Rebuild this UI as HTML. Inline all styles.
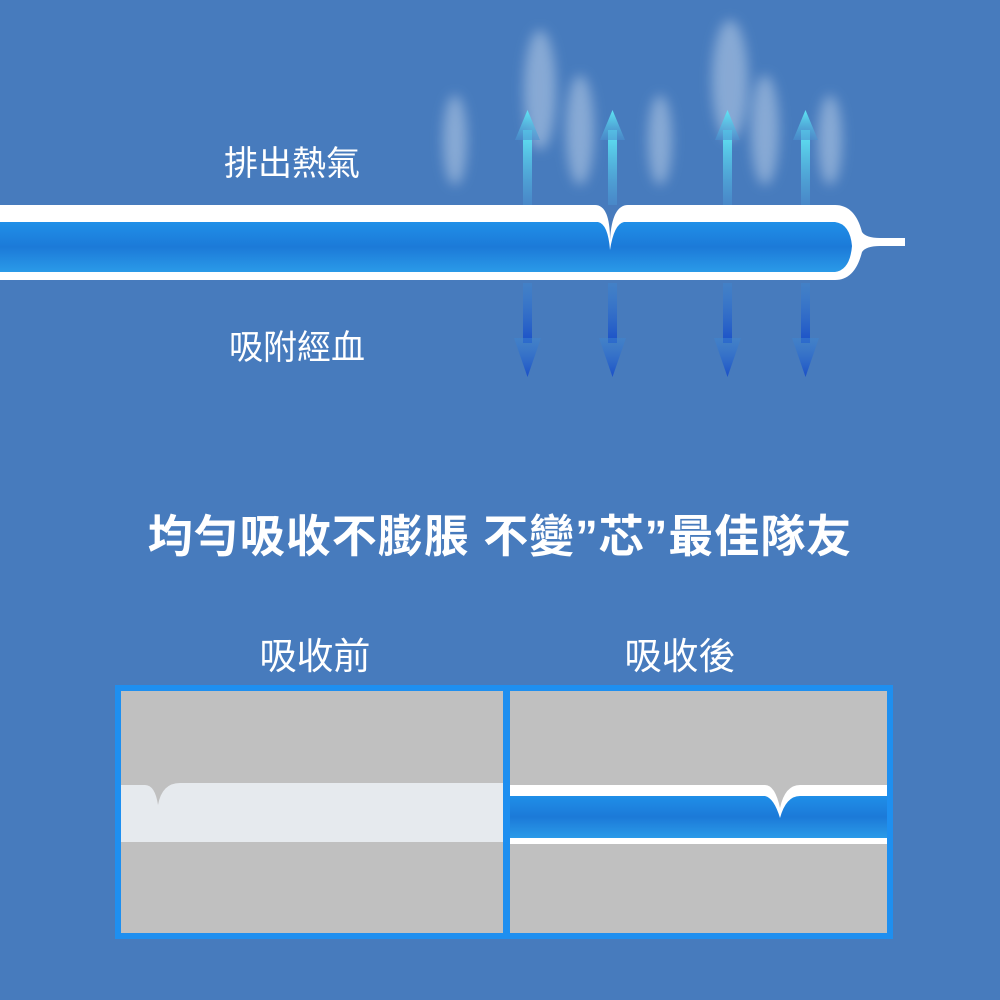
<!DOCTYPE html>
<html><head><meta charset="utf-8"><style>
body{margin:0;width:1000px;height:1000px;background:#477bbd;overflow:hidden;position:relative;font-family:"Liberation Sans","Noto Sans CJK TC",sans-serif;color:#fff}
.t{position:absolute;white-space:nowrap}
</style></head><body>
<svg width="1000" height="1000" style="position:absolute;left:0;top:0">
<defs>
<linearGradient id="up" x1="0" y1="1" x2="0" y2="0"><stop offset="0" stop-color="#4a90d0" stop-opacity="0.6"/><stop offset="1" stop-color="#5fe8f5"/></linearGradient>
<linearGradient id="dn" x1="0" y1="0" x2="0" y2="1"><stop offset="0" stop-color="#3f86d0" stop-opacity="0.5"/><stop offset="1" stop-color="#1a4fc8"/></linearGradient>
<linearGradient id="gel" x1="0" y1="0" x2="0" y2="1"><stop offset="0" stop-color="#1f8fe8"/><stop offset="0.5" stop-color="#1c7ad8"/><stop offset="1" stop-color="#2a9ae8"/></linearGradient>
<filter id="bl"><feGaussianBlur stdDeviation="6"/></filter>
</defs>
<g fill="#c8d8ec" opacity="0.5" filter="url(#bl)">
<ellipse cx="455" cy="140" rx="12" ry="45"/><ellipse cx="540" cy="90" rx="16" ry="60"/><ellipse cx="580" cy="130" rx="14" ry="55"/>
<ellipse cx="660" cy="140" rx="12" ry="45"/><ellipse cx="730" cy="80" rx="18" ry="60"/><ellipse cx="765" cy="130" rx="14" ry="55"/><ellipse cx="830" cy="140" rx="12" ry="45"/>
</g>
<path d="M0,205 H595 Q610,205 610,240 Q612,205 628,205 H835 Q855,205 862,232 Q866,238 880,238 H905 V246 H880 Q866,246 862,252 Q855,280 835,280 H0 Z" fill="#fff"/>
<path d="M0,222 H598 Q608,224 610,250 Q614,224 624,222 H835 Q850,224 852,246 Q850,270 835,272 H0 Z" fill="url(#gel)"/>
<g fill="url(#up)">
<rect x="523" y="130" width="9" height="75"/><path d="M515,140 L527.5,110 L540,140 Z"/>
<rect x="608" y="130" width="9" height="75"/><path d="M600,140 L612.5,110 L625,140 Z"/>
<rect x="723" y="130" width="9" height="75"/><path d="M715,140 L727.5,110 L740,140 Z"/>
<rect x="801" y="130" width="9" height="75"/><path d="M793,140 L805.5,110 L818,140 Z"/>
</g>
<g fill="url(#dn)">
<rect x="523" y="283" width="9" height="60"/><path d="M514,338 L527.5,377 L541,338 Z"/>
<rect x="608" y="283" width="9" height="60"/><path d="M599,338 L612.5,377 L626,338 Z"/>
<rect x="723" y="283" width="9" height="60"/><path d="M714,338 L727.5,377 L741,338 Z"/>
<rect x="801" y="283" width="9" height="60"/><path d="M792,338 L805.5,377 L819,338 Z"/>
</g>
<rect x="115" y="685" width="778" height="254" fill="#1e8ff0"/>
<rect x="121" y="691" width="382" height="242" fill="#c0c0c0"/>
<rect x="510" y="691" width="377" height="242" fill="#c0c0c0"/>
<path d="M121,785 H145 Q155,785 158,805 Q162,783 180,783 H503 V842 H121 Z" fill="#e6eaee"/>
<path d="M510,785 H765 Q775,785 780,808 Q785,785 800,785 H887 V844 H510 Z" fill="#fff"/>
<path d="M510,796 H765 Q774,798 780,818 Q786,796 800,796 H887 V838 H510 Z" fill="url(#gel)"/>
</svg>
<div class="t" style="left:224px;top:136px;font-size:34px">排出熱氣</div>
<div class="t" style="left:229px;top:320px;font-size:34px">吸附經血</div>
<div class="t" style="left:0;width:1000px;text-align:center;top:500px;font-size:45px;font-weight:bold;letter-spacing:1px">均勻吸收不膨脹 不變”芯”最佳隊友</div>
<div class="t" style="left:250px;width:130px;text-align:center;top:626px;font-size:37px">吸收前</div>
<div class="t" style="left:615px;width:130px;text-align:center;top:626px;font-size:37px">吸收後</div>
</body></html>
